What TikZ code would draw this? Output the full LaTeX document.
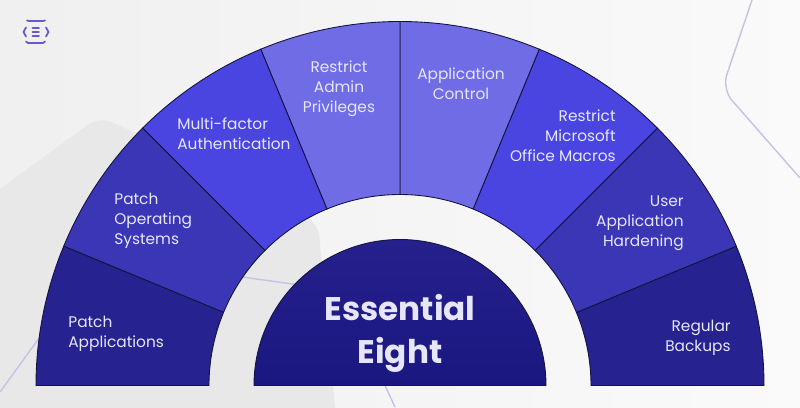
\documentclass[tikz,border=0pt]{standalone}
\usepackage{fontspec}
\setmainfont{Poppins}
\definecolor{sectdark}{HTML}{26228F}
\definecolor{sectmid}{HTML}{3B36B5}
\definecolor{sectbright}{HTML}{4A45E0}
\definecolor{sectpale}{HTML}{6F6CE6}
\definecolor{coretop}{HTML}{25208C}
\definecolor{corebottom}{HTML}{1B1780}
\definecolor{sectline}{HTML}{14143F}
\definecolor{labeltext}{HTML}{E6E6F8}
\definecolor{traceline}{HTML}{C4C2E6}
\definecolor{logoline}{HTML}{6A58CC}
\tikzset{
    sectlabel/.style={text=labeltext, font=\fontsize{8.75}{11.4}\selectfont, inner sep=0pt},
    tracepath/.style={draw=traceline, line width=0.8pt, rounded corners=0.2cm},
    logostroke/.style={draw=logoline, line width=1pt, line cap=round, line join=round}
}

\begin{document}
\begin{tikzpicture}
    \useasboundingbox (-8, -0.43) rectangle (8, 7.71);

    % Draw background
    \fill[left color=black!6, right color=black!2] (-8, -0.43) rectangle (8, 7.71);
    \fill[black!9, rounded corners=0.3cm] (-9, 3.2) -- (-6, 5.39) -- (-1.64, 3.27) -- (-1.2, -1.5) -- (-9, -1.5) -- cycle;

    % Draw thin lines behind the arch
    \draw[tracepath] (-8, -0.13) -- (-6.04, 2.57) -- (-1.14, 1.89) -- (-0.3, 0) -- (-0.1, -0.43);
    \draw[tracepath, rounded corners=0.3cm] (7.04, 7.71) -- (6.44, 5.93) -- (8, 4.15);

    % Draw logo
    \draw[logostroke] (-7.46, 7.3) -- (-7.42, 7.29) -- (-7.14, 7.29) -- (-7.1, 7.3);
    \draw[logostroke] (-7.48, 6.88) -- (-7.44, 6.85) -- (-7.14, 6.85) -- (-7.1, 6.88);
    \draw[logostroke] (-7.48, 7.16) -- (-7.53, 7.07) -- (-7.48, 6.98);
    \draw[logostroke] (-7.08, 7.16) -- (-7.03, 7.07) -- (-7.08, 6.98);
    \draw[logostroke] (-7.35, 7.15) -- (-7.22, 7.15);
    \draw[logostroke] (-7.35, 7.07) -- (-7.22, 7.07);
    \draw[logostroke] (-7.35, 6.99) -- (-7.22, 6.99);

    % Draw the eight sectors
    \foreach \i/\sectcol in {0/sectdark, 1/sectmid, 2/sectbright, 3/sectpale, 4/sectpale, 5/sectbright, 6/sectmid, 7/sectdark} {
        \pgfmathsetmacro{\startang}{\i*22.5}
        \pgfmathsetmacro{\stopang}{(\i+1)*22.5}
        \draw[draw=sectline, line width=0.5pt, fill=\sectcol] (\startang:3.82) -- (\startang:7.28) arc (\startang:\stopang:7.28) -- (\stopang:3.82) arc (\stopang:\startang:3.82) -- cycle;
    }

    % Draw center half disc
    \draw[draw=sectline, line width=0.5pt, top color=coretop, bottom color=corebottom] (-2.92, 0) arc (180:0:2.92) -- cycle;

    % Labels
    \node[sectlabel, anchor=east, align=right] (backups) at (6.62, 0.95) {Regular\\Backups};
    \node[sectlabel, anchor=east, align=right] (hardening) at (5.68, 3.25) {User\\Application\\Hardening};
    \node[sectlabel, anchor=east, align=right] (macros) at (4.32, 4.99) {Restrict\\Microsoft\\Office Macros};
    \node[sectlabel, align=center] (control) at (1.22, 6.04) {Application\\Control};
    \node[sectlabel, align=center] (privileges) at (-1.22, 5.94) {Restrict\\Admin\\Privileges};
    \node[sectlabel, anchor=west, align=left] (multifactor) at (-4.46, 5.03) {Multi-factor\\Authentication};
    \node[sectlabel, anchor=west, align=left] (patchos) at (-5.72, 3.3) {Patch\\Operating\\Systems};
    \node[sectlabel, anchor=west, align=left] (patchapps) at (-6.64, 1.04) {Patch\\Applications};
    \node[text=labeltext, align=center, inner sep=0pt, font=\fontsize{18.6}{24.5}\selectfont\bfseries] (essential) at (0, 1.04) {Essential\\Eight};
\end{tikzpicture}
\end{document}
